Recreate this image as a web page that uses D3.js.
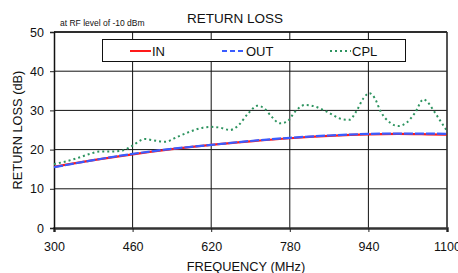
<!DOCTYPE html>
<html>
<head>
<meta charset="utf-8">
<script src="https://cdn.jsdelivr.net/npm/d3@7"></script>
<style>
  body { margin: 0; background: #fff; }
  svg { display: block; font-family: "Liberation Sans", Arial, sans-serif; }
</style>
</head>
<body>
<div id="chart"></div>
<script>
// frequency points (MHz) and return loss (dB)
const freqInOut = [300, 380, 460, 540, 620, 700, 780, 860, 940, 1000, 1060, 1100];
const inLoss    = [15.6, 17.3, 18.8, 20.1, 21.2, 22.1, 22.9, 23.5, 23.9, 24.0, 23.9, 23.8];
const outLoss   = [15.5, 17.3, 18.9, 20.2, 21.2, 22.2, 23.0, 23.6, 24.0, 24.1, 24.1, 24.0];

const freqCpl = [300, 318, 347, 373, 394, 414, 438, 458, 485, 501, 526, 552, 573, 603, 621, 638, 658, 672,
                 696, 714, 729, 743, 760, 774, 791, 811, 831, 855, 889, 901, 916, 930, 942, 953, 965, 984,
                 1001, 1018, 1035, 1052, 1060, 1072, 1086, 1100];
const cplLoss = [16.3, 16.8, 17.8, 18.9, 19.5, 19.5, 19.7, 20.9, 22.7, 22.4, 22.0, 23.3, 24.4, 25.6, 25.8, 25.6, 25.0, 25.8,
                 29.3, 31.2, 30.4, 28.4, 26.7, 27.1, 29.7, 31.4, 31.0, 29.7, 27.7, 27.6, 29.9, 33.1, 34.4, 33.1, 29.7, 26.9,
                 26.0, 26.9, 29.4, 32.8, 32.2, 30.1, 27.4, 24.8];

const xTicks = [300, 460, 620, 780, 940, 1100];
const yTicks = [0, 10, 20, 30, 40, 50];

const width = 458, height = 273;
const margin = {top: 32, right: 11, bottom: 45, left: 54};

const svg = d3.select("#chart").append("svg")
    .attr("width", width)
    .attr("height", height);

const x = d3.scaleLinear().domain([300, 1100]).range([margin.left, width - margin.right]);
const y = d3.scaleLinear().domain([0, 50]).range([height - margin.bottom, margin.top]);

// grid
svg.append("g")
  .selectAll("line.v")
  .data(xTicks.slice(1))
  .join("line")
    .attr("x1", d => x(d)).attr("x2", d => x(d))
    .attr("y1", y(0)).attr("y2", y(50))
    .attr("stroke", "#111").attr("stroke-width", 1);

svg.append("g")
  .selectAll("line.h")
  .data(yTicks.slice(1))
  .join("line")
    .attr("x1", x(300)).attr("x2", x(1100))
    .attr("y1", d => y(d)).attr("y2", d => y(d))
    .attr("stroke", "#111").attr("stroke-width", 1);

// axes
const xAxis = svg.append("g")
    .attr("transform", `translate(0,${y(0)})`)
    .call(d3.axisBottom(x).tickValues(xTicks).tickFormat(d3.format("d")).tickSize(4).tickPadding(10));
xAxis.select(".domain").attr("stroke", "#333").attr("stroke-width", 2.5);
xAxis.selectAll(".tick line").attr("stroke", "#222");
xAxis.selectAll("text").attr("font-size", 12.5).attr("font-family", "Liberation Sans, Arial").attr("fill", "#111");

const yAxis = svg.append("g")
    .attr("transform", `translate(${x(300)},0)`)
    .call(d3.axisLeft(y).tickValues(yTicks).tickSize(4).tickPadding(6));
yAxis.select(".domain").attr("stroke", "#111").attr("stroke-width", 1.5);
yAxis.selectAll(".tick line").attr("stroke", "#222");
yAxis.selectAll("text").attr("font-size", 12.5).attr("font-family", "Liberation Sans, Arial").attr("fill", "#111");

// series
const line = d3.line().x(d => x(d[0])).y(d => y(d[1])).curve(d3.curveMonotoneX);

svg.append("path")
    .datum(d3.zip(freqInOut, inLoss))
    .attr("fill", "none").attr("stroke", "#ff1a1a").attr("stroke-width", 2.2)
    .attr("d", line);

svg.append("path")
    .datum(d3.zip(freqInOut, outLoss))
    .attr("fill", "none").attr("stroke", "#3a5cff").attr("stroke-width", 2.2)
    .attr("stroke-dasharray", "9,2")
    .attr("d", line);

svg.append("path")
    .datum(d3.zip(freqCpl, cplLoss))
    .attr("fill", "none").attr("stroke", "#2e9460").attr("stroke-width", 2)
    .attr("stroke-dasharray", "2,3")
    .attr("d", line);

// top and right frame
svg.append("line")
    .attr("x1", x(300)).attr("x2", x(1100)).attr("y1", y(50)).attr("y2", y(50))
    .attr("stroke", "#111").attr("stroke-width", 1.5);
svg.append("line")
    .attr("x1", x(1100)).attr("x2", x(1100)).attr("y1", y(50)).attr("y2", y(0))
    .attr("stroke", "#333").attr("stroke-width", 1.2);

// legend
const legend = svg.append("g");
legend.append("rect")
    .attr("x", 102.5).attr("y", 39.5).attr("width", 303).attr("height", 22)
    .attr("fill", "#fff").attr("stroke", "#111").attr("stroke-width", 1);

const legendItems = [
  {name: "IN",  color: "#ff1a1a", dash: null,  x0: 130, x1: 151},
  {name: "OUT", color: "#3a5cff", dash: "5,3", x0: 222, x1: 245},
  {name: "CPL", color: "#2e9460", dash: "2,3", x0: 330, x1: 351}
];
legendItems.forEach(d => {
  legend.append("line")
      .attr("x1", d.x0).attr("x2", d.x1).attr("y1", 51).attr("y2", 51)
      .attr("stroke", d.color).attr("stroke-width", 2)
      .attr("stroke-dasharray", d.dash);
  legend.append("text")
      .attr("x", d.x1 + 1).attr("y", 56)
      .attr("font-size", 13).attr("fill", "#111")
      .text(d.name);
});

// titles
svg.append("text")
    .attr("x", 235).attr("y", 23)
    .attr("text-anchor", "middle").attr("font-size", 13.5).attr("fill", "#111")
    .text("RETURN LOSS");

svg.append("text")
    .attr("x", 60).attr("y", 26)
    .attr("font-size", 8.5).attr("fill", "#111")
    .text("at RF level of -10 dBm");

svg.append("text")
    .attr("transform", `translate(22,${(y(0) + y(50)) / 2}) rotate(-90)`)
    .attr("text-anchor", "middle").attr("font-size", 12.8).attr("fill", "#111")
    .text("RETURN LOSS (dB)");

svg.append("text")
    .attr("x", 246).attr("y", 271)
    .attr("text-anchor", "middle").attr("font-size", 12.8).attr("fill", "#111")
    .text("FREQUENCY (MHz)");
</script>
</body>
</html>
